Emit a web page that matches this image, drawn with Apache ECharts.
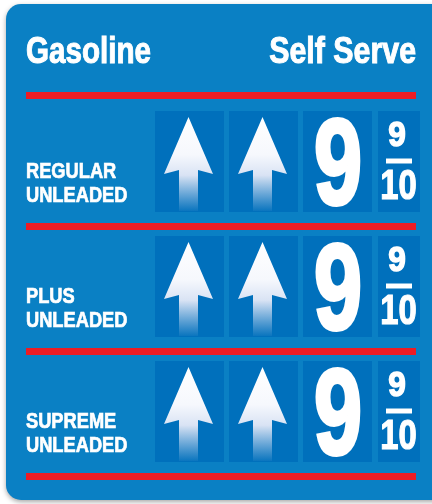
<!DOCTYPE html>
<html>
<head>
<meta charset="utf-8">
<script src="https://cdn.jsdelivr.net/npm/echarts@6/dist/echarts.min.js"></script>
<style>
  html, body { margin: 0; padding: 0; background: #fff; }
  #main { width: 432px; height: 504px; }
</style>
</head>
<body>
<div id="main"></div>
<script>
// sign contents
const headerLeft = 'Gasoline';
const headerRight = 'Self Serve';
const grades = ['REGULAR', 'PLUS', 'SUPREME'];
const gradeSub = ['UNLEADED', 'UNLEADED', 'UNLEADED'];
const bigDigit = ['9', '9', '9'];
const fracTop = ['9', '9', '9'];
const fracBottom = ['10', '10', '10'];

// no narrow font installed, so squeeze Liberation Sans sideways
const FONT = '"Liberation Sans", Arial, sans-serif';
const BOARD = '#0a80c4';
const CELL = '#0070bc';
const RED = '#ed1c24';

const arrowFill = {
    type: 'linear', x: 0, y: 0, x2: 0, y2: 1,
    colorStops: [
        { offset: 0, color: '#ffffff' },
        { offset: 0.4, color: '#f6f8fd' },
        { offset: 0.62, color: '#d9e3f4' },
        { offset: 1, color: 'rgba(200,215,240,0.05)' }
    ]
};

// y is where the middle of the capitals should sit
function label(x, y, text, size, align, sx, weight) {
    return {
        type: 'text', x: x, y: y + size * 0.05, scaleX: sx || 0.83,
        style: {
            text: text, fill: '#fff', font: 'bold ' + size + 'px ' + FONT,
            stroke: '#fff', lineWidth: weight || 0.7,
            align: align || 'left', verticalAlign: 'middle'
        }
    };
}

function arrow(cx, top) {
    return {
        type: 'polygon',
        shape: {
            points: [
                [cx, top + 6], [cx + 24.5, top + 63], [cx + 9.5, top + 59],
                [cx + 9.5, top + 100], [cx - 9.5, top + 100], [cx - 9.5, top + 59],
                [cx - 24.5, top + 63]
            ]
        },
        style: { fill: arrowFill }
    };
}

function renderRow(params, api) {
    const i = api.value(0);
    const top = api.coord([0, i])[1] - 50.5;
    const children = [
        { type: 'rect', shape: { x: 155, y: top, width: 69, height: 101 }, style: { fill: CELL } },
        { type: 'rect', shape: { x: 229, y: top, width: 69, height: 101 }, style: { fill: CELL } },
        { type: 'rect', shape: { x: 303, y: top, width: 69, height: 101 }, style: { fill: CELL } },
        { type: 'rect', shape: { x: 378, y: top, width: 42, height: 101 }, style: { fill: CELL } },
        arrow(188.5, top),
        arrow(262.5, top),
        label(26, top + 60, grades[i], 22),
        label(26, top + 84, gradeSub[i], 22),
        label(338, top + 54, bigDigit[i], 120, 'center', 0.72, 4),
        label(397, top + 23.5, fracTop[i], 35, 'center', 0.9, 1.5),
        { type: 'rect', shape: { x: 386, y: top + 47.5, width: 26, height: 5 }, style: { fill: '#fff' } },
        label(398.5, top + 74, fracBottom[i], 42, 'center', 0.78, 1.2),
        { type: 'rect', shape: { x: 26, y: top + 112, width: 390, height: 7 }, style: { fill: RED } }
    ];
    return { type: 'group', children: children };
}

const chart = echarts.init(document.getElementById('main'));
chart.setOption({
    animation: false,
    graphic: [
        {
            type: 'rect', z: -10,
            shape: { x: 6, y: 4, width: 450, height: 496, r: 15 },
            style: { fill: BOARD, shadowBlur: 5, shadowColor: 'rgba(0,0,0,0.35)', shadowOffsetY: 2 }
        },
        Object.assign(label(26, 51, headerLeft, 37, 'left', 0.8, 1), { z: 5 }),
        Object.assign(label(416, 51, headerRight, 37, 'right', 0.82, 1), { z: 5 }),
        {
            type: 'rect', z: 5,
            shape: { x: 26, y: 92, width: 390, height: 7 }, style: { fill: RED }
        }
    ],
    grid: { left: 0, right: 0, top: 99, height: 375 },
    xAxis: { type: 'value', min: 0, max: 1, show: false },
    yAxis: { type: 'category', data: grades, inverse: true, show: false },
    series: [{
        type: 'custom',
        renderItem: renderRow,
        data: grades.map(function (g, i) { return [i]; }),
        encode: { y: 0 },
        clip: false
    }]
});
</script>
</body>
</html>
